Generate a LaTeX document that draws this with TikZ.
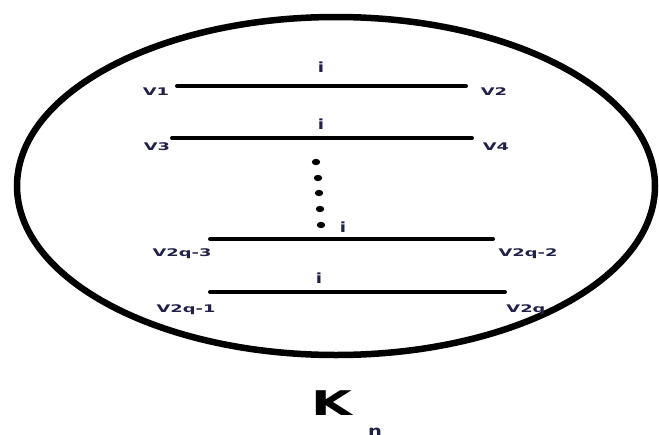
\documentclass[tikz,border=0pt]{standalone}
\usepackage{fontspec}
\setmainfont{DejaVu Sans}
\usepackage{graphicx}
\definecolor{navy}{RGB}{32,32,72}
\newcommand{\wide}[2][1.7]{\scalebox{#1}[1]{#2}}
\tikzset{
  vlabel/.style={anchor=base, inner sep=0pt, text=navy, font=\bfseries\fontsize{10.5}{12}\selectfont},
  ilabel/.style={anchor=base, inner sep=0pt, text=navy, font=\bfseries\fontsize{14}{16}\selectfont},
  edge/.style={line width=4pt, line cap=round},
}
\begin{document}
\begin{tikzpicture}[x=1pt, y=-1pt]
\useasboundingbox (0,0) rectangle (659,434);
\fill[white] (0,0) rectangle (659,434);
\draw[line width=6.5pt] (336,186) ellipse [x radius=319, y radius=169];
% edge endpoints
\coordinate (a1) at (177,86);  \coordinate (b1) at (466,86);
\coordinate (a2) at (172,138); \coordinate (b2) at (472,138);
\coordinate (a3) at (210,239); \coordinate (b3) at (493,239);
\coordinate (a4) at (210,292); \coordinate (b4) at (505,292);
\draw[edge] (a1) -- (b1);
\draw[edge] (a2) -- (b2);
\draw[edge] (a3) -- (b3);
\draw[edge] (a4) -- (b4);
% vertex labels
\node[vlabel] (V1) at (156,95) {\wide{V1}};
\node[vlabel] (V2) at (494,95) {\wide{V2}};
\node[vlabel] (V3) at (157,150) {\wide{V3}};
\node[vlabel] (V4) at (496,150) {\wide{V4}};
\node[vlabel] (V5) at (182,256) {\wide{V2q-3}};
\node[vlabel] (V6) at (528,256) {\wide{V2q-2}};
\node[vlabel] (V7) at (186,312) {\wide{V2q-1}};
\node[vlabel] (V8) at (526,312) {\wide{V2q}};
% edge labels
\node[ilabel] (i1) at (321,72) {\wide[1.3]{i}};
\node[ilabel] (i2) at (321,129) {\wide[1.3]{i}};
\node[ilabel] (i3) at (343,232) {\wide[1.3]{i}};
\node[ilabel] (i4) at (319,283) {\wide[1.3]{i}};
% dots
\foreach \k/\xx/\yy in {1/316/162, 2/318/178, 3/319/193, 4/320/209, 5/321/225}
  \fill (\xx,\yy) ellipse [x radius=4.2, y radius=3.2];
% K_n
\node[anchor=base, inner sep=0pt, font=\bfseries\fontsize{34}{36}\selectfont] (K) at (332,415) {\wide[1.55]{K}};
\node[anchor=base, inner sep=0pt, text=navy, font=\bfseries\fontsize{15}{17}\selectfont] (n) at (375,436) {\wide[1.3]{n}};
\end{tikzpicture}
\end{document}
